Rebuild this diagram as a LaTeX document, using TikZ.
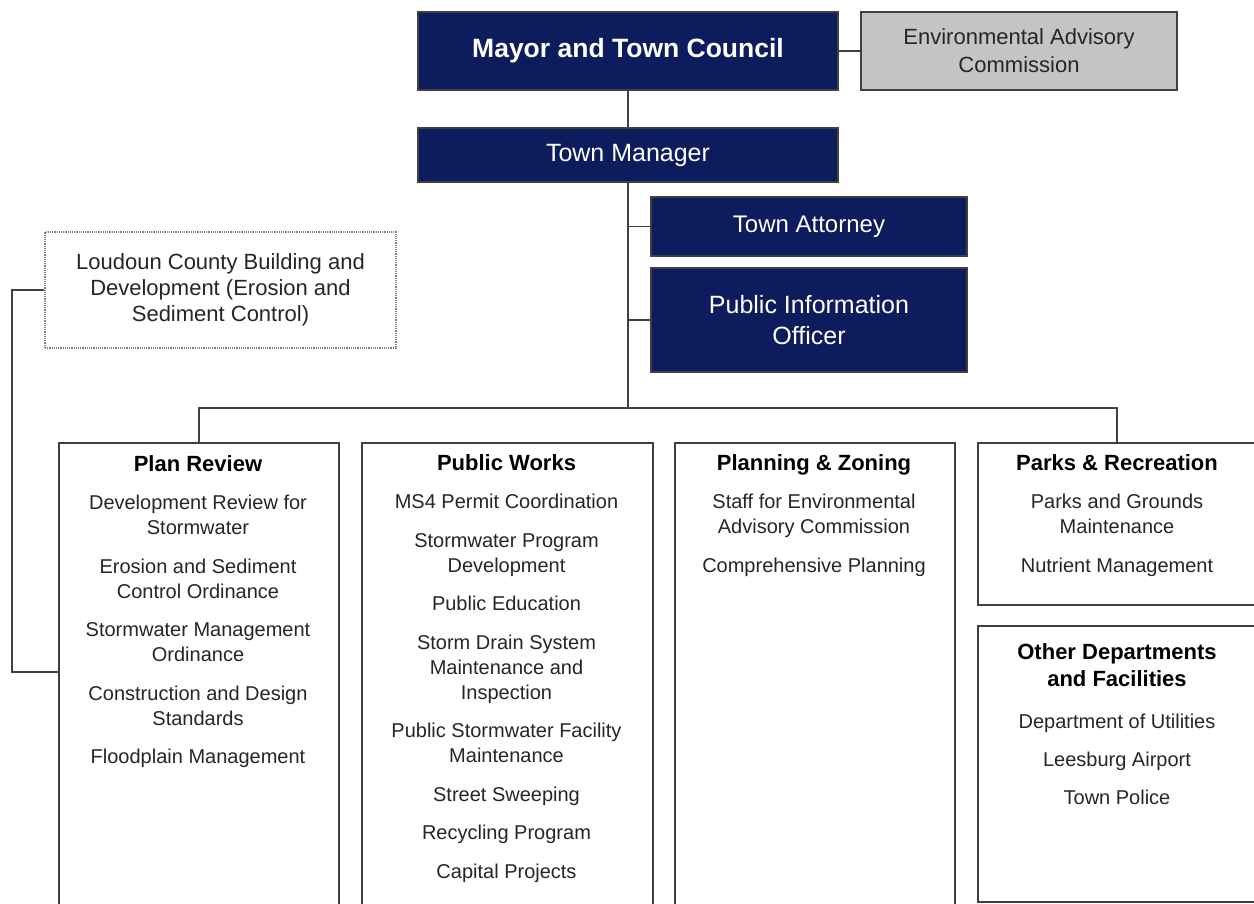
\documentclass[tikz,border=0pt]{standalone}
\usepackage{fontspec}
\setmainfont{Liberation Sans}
\definecolor{navy}{RGB}{12,28,92}
\definecolor{linegrey}{RGB}{64,64,64}
\definecolor{envgrey}{RGB}{196,196,196}
\definecolor{txtgrey}{RGB}{38,38,38}
\tikzset{
  navybox/.style={draw=linegrey, line width=1.5pt, fill=navy, text=white, inner sep=0pt, align=center},
  envbox/.style={draw=linegrey, line width=1.5pt, fill=envgrey, text=txtgrey, inner sep=0pt, align=center,
    font=\fontsize{22}{28}\selectfont},
  dotbox/.style={draw=gray, densely dotted, line width=1.2pt, inner sep=0pt, align=center, text=txtgrey,
    font=\fontsize{22}{26}\selectfont},
  deptbox/.style={draw=linegrey, line width=1.5pt, fill=white, inner sep=0pt, anchor=north west},
  depttext/.style={inner sep=0pt, anchor=north, align=center, text=txtgrey, font=\fontsize{20}{25}\selectfont},
  conn/.style={draw=linegrey, line width=1.5pt}
}
\newcommand{\hd}[1]{{\fontsize{22}{26}\selectfont\bfseries\color{black}\strut #1}}
\begin{document}
\begin{tikzpicture}[x=1pt,y=-1pt]
\useasboundingbox (0,0) rectangle (1254,903);
\clip (0,0) rectangle (1254,903);
\fill[white] (0,0) rectangle (1254,903);

% top boxes
\node[navybox, minimum width=420pt, minimum height=78pt, font=\bfseries\fontsize{26.5}{30}\selectfont] (mayor) at (628,51) {Mayor and Town Council};
\node[envbox, minimum width=316pt, minimum height=78pt] (env) at (1019,51) {Environmental Advisory\\Commission};
\node[navybox, minimum width=420pt, minimum height=54pt, font=\fontsize{25}{30}\selectfont] (tm) at (628,155) {Town Manager};
\node[navybox, minimum width=316pt, minimum height=59pt, font=\fontsize{24}{30}\selectfont] (ta) at (809,226.5) {Town Attorney};
\node[navybox, minimum width=316pt, minimum height=104pt, font=\fontsize{25}{31}\selectfont] (pio) at (809,320) {Public Information\\Officer};
\node[dotbox, minimum width=351pt, minimum height=116pt] (loud) at (220.5,290) {Loudoun County Building and\\Development (Erosion and\\Sediment Control)};

% department boxes
\node[deptbox, minimum width=280pt, minimum height=500pt] (pr) at (58,442) {};
\node[deptbox, minimum width=291pt, minimum height=500pt] (pw) at (361,442) {};
\node[deptbox, minimum width=280pt, minimum height=500pt] (pz) at (674,442) {};
\node[deptbox, minimum width=285pt, minimum height=162pt] (parks) at (977,442) {};
\node[deptbox, minimum width=285pt, minimum height=276pt] (other) at (977,625) {};

% department texts
\node[depttext] (prt) at (198,452.8) {\hd{Plan Review}\\[13.5pt]
Development Review for\\Stormwater\\[13.5pt]
Erosion and Sediment\\Control Ordinance\\[13.5pt]
Stormwater Management\\Ordinance\\[13.5pt]
Construction and Design\\Standards\\[13.5pt]
Floodplain Management};
\node[depttext] (pwt) at (506.5,451.8) {\hd{Public Works}\\[13.5pt]
MS4 Permit Coordination\\[13.5pt]
Stormwater Program\\Development\\[13.5pt]
Public Education\\[13.5pt]
Storm Drain System\\Maintenance and\\Inspection\\[13.5pt]
Public Stormwater Facility\\Maintenance\\[13.5pt]
Street Sweeping\\[13.5pt]
Recycling Program\\[13.5pt]
Capital Projects};
\node[depttext] (pzt) at (814,451.8) {\hd{Planning \& Zoning}\\[13.5pt]
Staff for Environmental\\Advisory Commission\\[13.5pt]
Comprehensive Planning};
\node[depttext] (parkst) at (1117,451.8) {\hd{Parks \& Recreation}\\[13.5pt]
Parks and Grounds\\Maintenance\\[13.5pt]
Nutrient Management};
\node[depttext] (othert) at (1117,641.5) {\hd{Other Departments}\\\hd{and Facilities}\\[17pt]
Department of Utilities\\[13pt]
Leesburg Airport\\[13pt]
Town Police};

% connectors
\coordinate (bus) at (628,408);
\coordinate (lc) at (12,672);
\draw[conn] (mayor.east) -- (env.west);
\draw[conn] (mayor.south) -- (tm.north);
\draw[conn] (tm.south) -- (bus);
\draw[conn] (ta.west) -- (ta.west -| bus);
\draw[conn] (pio.west) -- (pio.west -| bus);
\draw[conn] (pr.north) -- (pr.north |- bus) -- (parkst.north |- bus) -- (parkst.north |- parks.north);
\draw[conn] (loud.west) -| (lc) -- (lc -| pr.west);
\end{tikzpicture}
\end{document}
